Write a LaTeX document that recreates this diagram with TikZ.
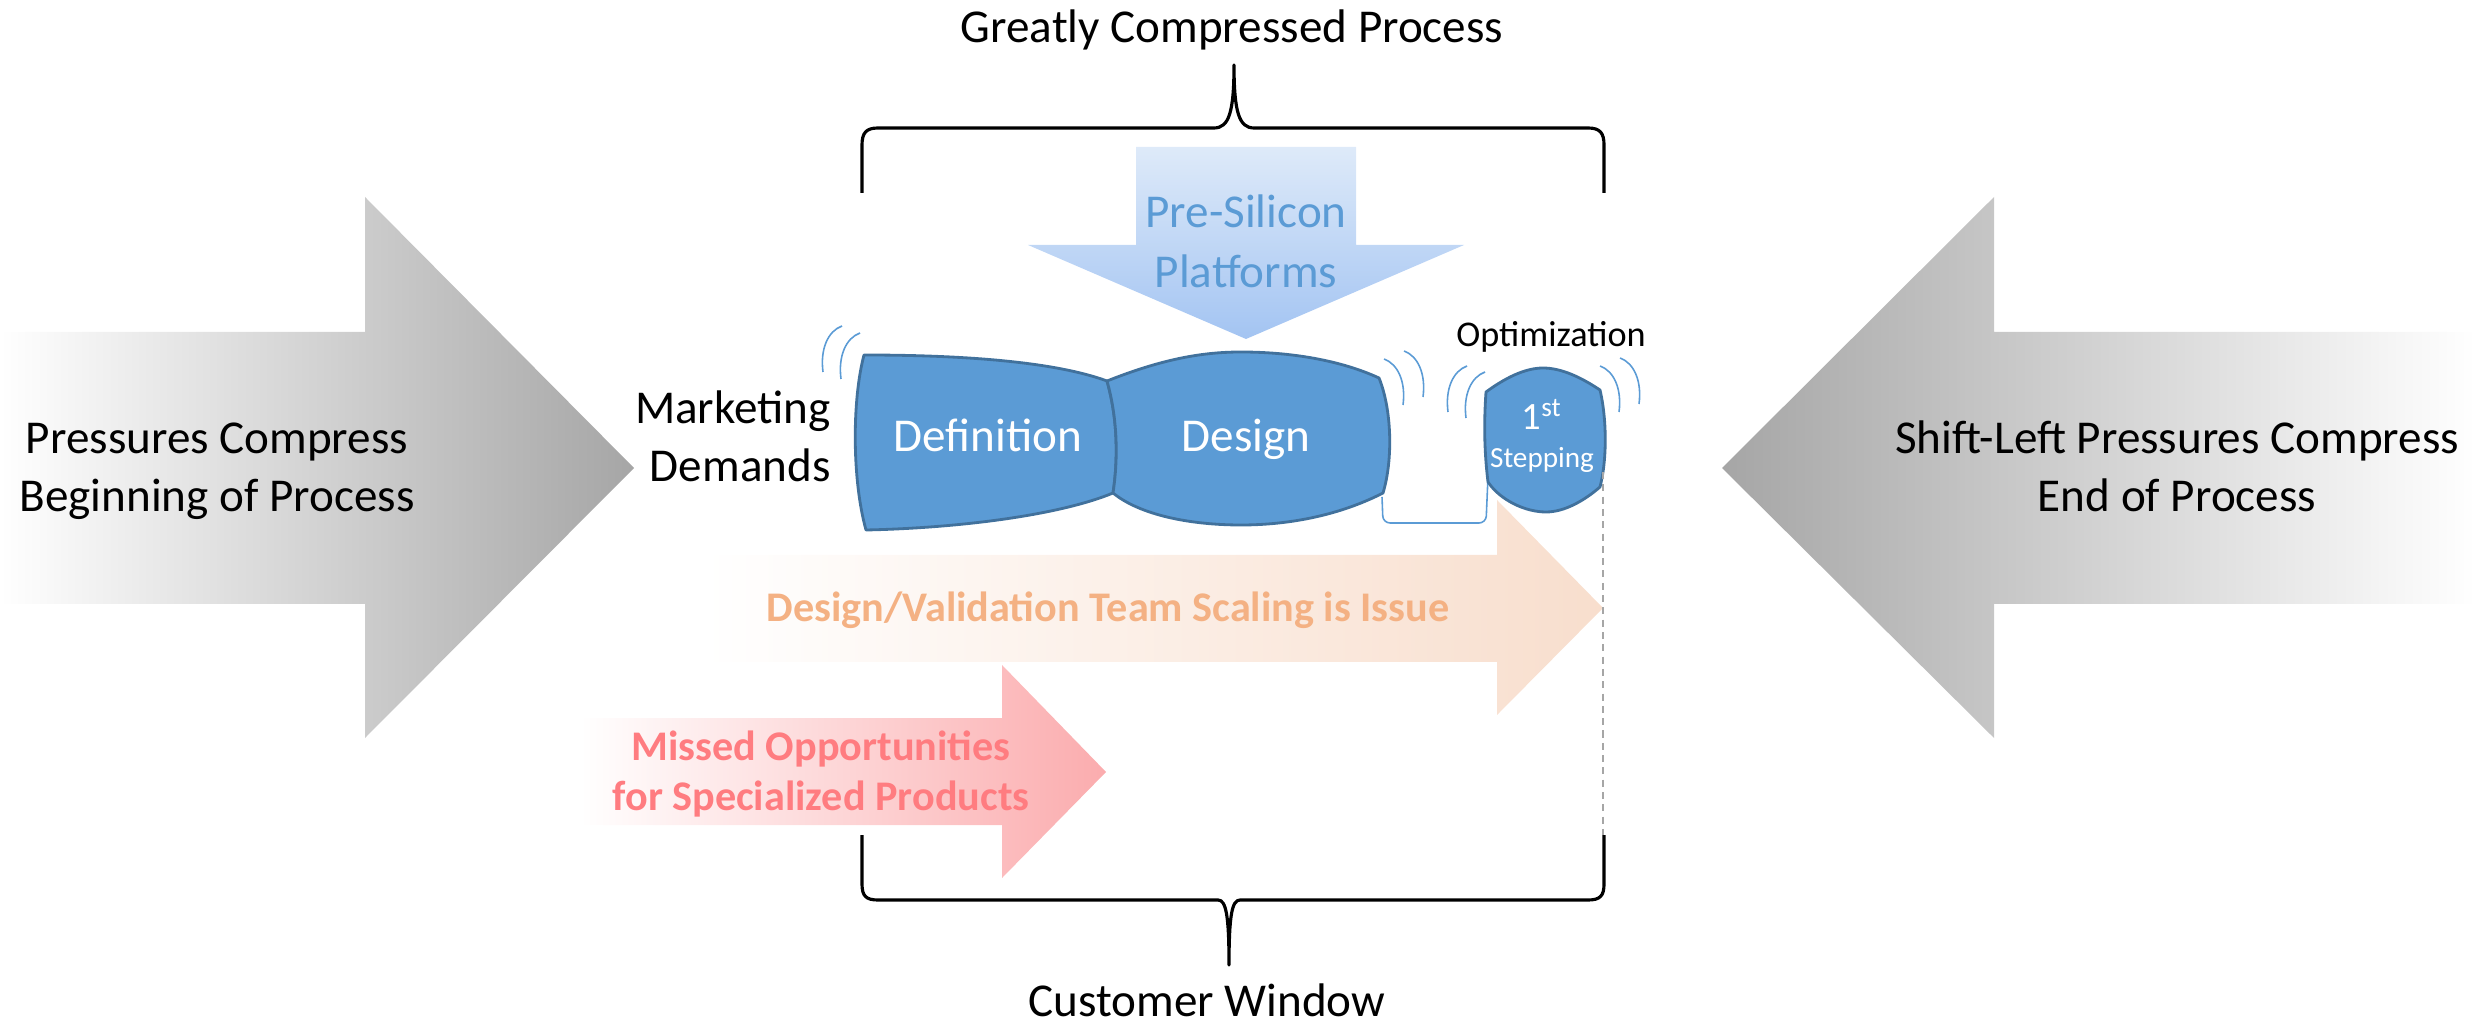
\documentclass[tikz,border=0pt]{standalone}
\usepackage{fontspec}
\setmainfont{Carlito}
\usepackage{tikz}
\usetikzlibrary{arrows}

\definecolor{blobfill}{RGB}{91,155,213}
\definecolor{blobedge}{RGB}{65,113,156}
\definecolor{presitop}{RGB}{222,234,249}
\definecolor{presibot}{RGB}{163,196,242}
\definecolor{peach}{RGB}{248,222,205}
\definecolor{peachtext}{RGB}{244,177,131}
\definecolor{rose}{RGB}{251,172,174}
\definecolor{rosetext}{RGB}{255,124,128}

\begin{document}
\begin{tikzpicture}[x=0.01cm,y=-0.01cm,line join=round,
	blob/.style={fill=blobfill,draw=blobedge,line width=0.8pt},
	buzz/.style={draw=blobfill,line width=0.45pt},
	brace/.style={draw=black,line width=0.9pt},
	guide/.style={draw=black!35,line width=0.35pt,dash pattern=on 2pt off 1.5pt},
	bigtext/.style={font=\fontsize{13.4}{16.5}\selectfont,align=center,anchor=base},
	blobtext/.style={bigtext,text=white},
	boldtext/.style={font=\bfseries\fontsize{12}{14.2}\selectfont,align=center,anchor=base}]
	\useasboundingbox (0,0) rectangle (2476,1028);

	% pressure arrows
	\shade[left color=white,right color=black!35]
		(0,332) -- (365,332) -- (365,197) -- (634,468) -- (365,738) -- (365,604) -- (0,604) -- cycle;
	\shade[left color=black!35,right color=white]
		(1722,468) -- (1994,197) -- (1994,332) -- (2476,332) -- (2476,604) -- (1994,604) -- (1994,738) -- cycle;

	% braces
	\draw[brace] (862,193) -- (862,145) .. controls (862,133) and (866,128) .. (878,128) -- (1214,128)
		.. controls (1229,128) and (1234,112) .. (1234,65) .. controls (1234,112) and (1239,128) .. (1254,128)
		-- (1588,128) .. controls (1600,128) and (1604,133) .. (1604,145) -- (1604,193);
	\draw[brace] (862,835) -- (862,884) .. controls (862,896) and (866,900) .. (878,900) -- (1218,900)
		.. controls (1226,900) and (1229,915) .. (1229,965) .. controls (1229,915) and (1232,900) .. (1240,900)
		-- (1588,900) .. controls (1600,900) and (1604,896) .. (1604,884) -- (1604,835);

	\shade[top color=presitop,bottom color=presibot]
		(1136,147) -- (1356,147) -- (1356,245) -- (1464,245) -- (1246,339) -- (1028,245) -- (1136,245) -- cycle;
	\shade[left color=white,right color=peach]
		(705,555) -- (1497,555) -- (1497,500) -- (1603,608) -- (1497,715) -- (1497,662) -- (705,662) -- cycle;
	\shade[left color=white,right color=rose]
		(580,718) -- (1002,718) -- (1002,665) -- (1106,772) -- (1002,878) -- (1002,825) -- (580,825) -- cycle;

	% process blobs
	\draw[buzz,rounded corners=2pt] (1382,497) -- (1383,523) -- (1486,523) -- (1488,476);
	\filldraw[blob] (864,355) .. controls (950,355) and (1050,360) .. (1107,381)
		.. controls (1118,420) and (1118,460) .. (1113,493)
		.. controls (1060,515) and (960,528) .. (866,530)
		.. controls (852,480) and (852,400) .. (864,355) -- cycle;
	\filldraw[blob] (1107,381) .. controls (1160,360) and (1200,352) .. (1241,352)
		.. controls (1290,352) and (1340,360) .. (1379,378)
		.. controls (1392,410) and (1393,460) .. (1383,493)
		.. controls (1340,515) and (1290,525) .. (1241,525)
		.. controls (1190,525) and (1140,515) .. (1113,493)
		.. controls (1118,460) and (1118,420) .. (1107,381) -- cycle;
	\filldraw[blob] (1486,392) .. controls (1505,378) and (1525,368) .. (1543,368)
		.. controls (1562,368) and (1582,378) .. (1600,390)
		.. controls (1607,420) and (1607,460) .. (1600,487)
		.. controls (1585,500) and (1565,512) .. (1546,512)
		.. controls (1525,512) and (1500,500) .. (1488,482)
		.. controls (1484,450) and (1484,420) .. (1486,392) -- cycle;

	\foreach \x/\y in {1384/359,1404/351,1600/366,1620/358}
		\draw[buzz] (\x,\y) .. controls (\x+14,\y+5) and (\x+22,\y+23) .. (\x+19,\y+46);
	\foreach \x/\y in {842/326,860/333,1467/366,1485/372}
		\draw[buzz] (\x,\y) .. controls (\x-14,\y+5) and (\x-22,\y+23) .. (\x-19,\y+46);

	\coordinate (stepfoot) at (1603,472);
	\coordinate (braceend) at (1603,835);
	\draw[guide] (stepfoot) -- (braceend);

	\node[bigtext]					(greatly)	at (1232,43)	{Greatly Compressed Process};
	\node[bigtext]					(window)	at (1207,1016)	{Customer Window};
	\node[bigtext]					(begintxt)	at (217,512)	{Pressures Compress\\Beginning of Process};
	\node[bigtext]					(endtxt)	at (2177,512)	{Shift-Left Pressures Compress\\End of Process};
	\node[bigtext,align=right,anchor=base east]	(market)	at (843,482)	{Marketing\\Demands};
	\node[blobtext]					(defn)		at (988,452)	{Definition};
	\node[blobtext]					(design)	at (1246,452)	{Design};
	\node[bigtext,text=blobfill,font=\fontsize{13.4}{17.1}\selectfont]	(presi)	at (1246,288)	{Pre-Silicon\\Platforms};
	\node[bigtext,font=\fontsize{10.3}{12}\selectfont]	(optim)		at (1551,347)	{Optimization};
	\node[blobtext,font=\fontsize{11}{13}\selectfont]	(first)		at (1542,430)	{1\textsuperscript{st}};
	\node[blobtext,font=\fontsize{8.3}{10}\selectfont]	(stepping)	at (1542,468)	{Stepping};
	\node[boldtext,text=peachtext]		(scaling)	at (1108,622)	{Design/Validation Team Scaling is Issue};
	\node[boldtext,text=rosetext]		(missed)	at (821,810)	{Missed Opportunities\\for Specialized Products};
\end{tikzpicture}
\end{document}
